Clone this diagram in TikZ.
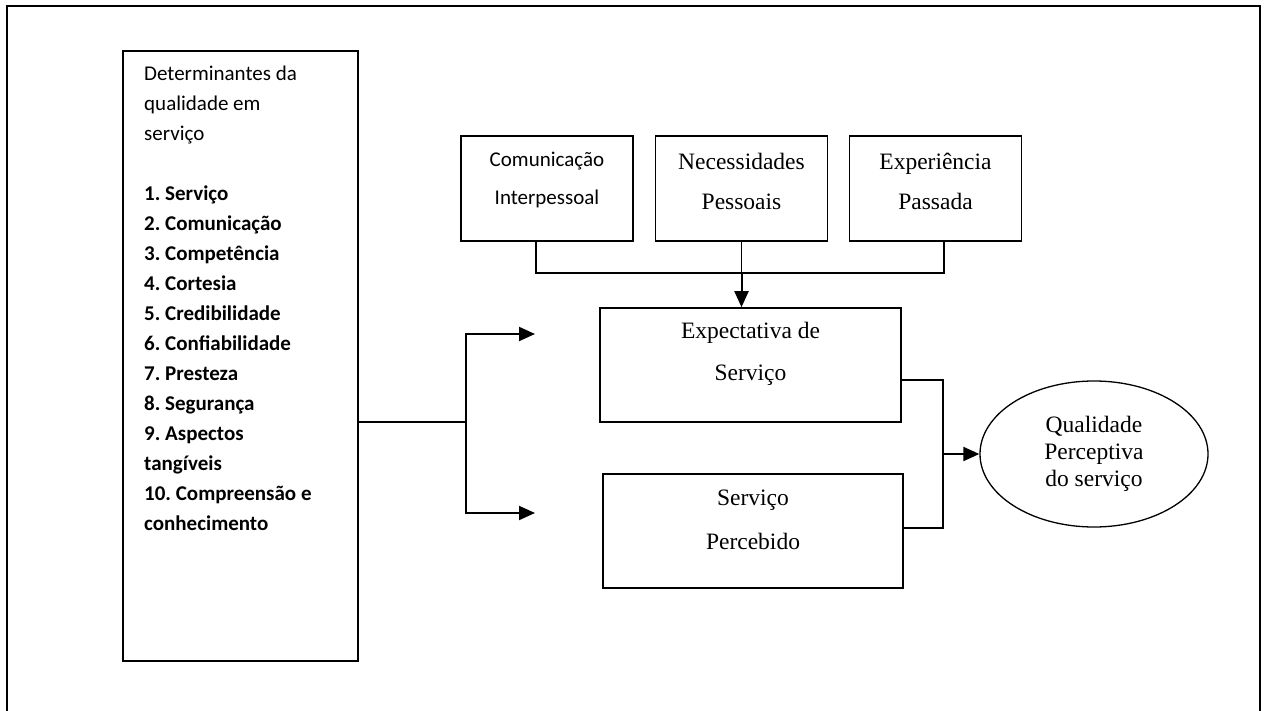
\documentclass[tikz,border=0pt]{standalone}
\usepackage{fontspec}
\setmainfont{Liberation Serif}
\newfontfamily\calibri{Carlito}
\usetikzlibrary{shapes.geometric,arrows.meta}
\frenchspacing

\begin{document}
\begin{tikzpicture}[x=1pt,y=-1pt,
    box/.style={draw,line width=1.6pt,inner sep=0pt},
    sans/.style={font=\calibri\fontsize{21}{38}\selectfont,align=center,inner sep=0pt},
    serif/.style={font=\fontsize{23.5}{41}\selectfont,align=center,inner sep=0pt},
    con/.style={line width=1.3pt},
    arr/.style={line width=2pt,-{Triangle[length=16pt,width=14pt]}},
    fork/.style={line width=2pt,{Triangle[length=16pt,width=14pt]}-{Triangle[length=16pt,width=14pt]}}]
    \useasboundingbox (0,0) rectangle (1264,711);
    \draw[line width=2pt] (7,716) |- (1260,6) -- (1260,716);% outer frame, its bottom is cut off

    % determinants on the left
    \node[box,minimum width=235pt,minimum height=610pt] (det) at (240.5,356) {};
    \node[anchor=north west,align=left,inner sep=0pt,
      font=\calibri\fontsize{21}{30}\selectfont] (detlist) at (144,66)
      {Determinantes da\\qualidade em\\serviço\\[30pt]
       \textbf{1. Serviço}\\\textbf{2. Comunicação}\\\textbf{3. Competência}\\
       \textbf{4. Cortesia}\\\textbf{5. Credibilidade}\\\textbf{6. Confiabilidade}\\
       \textbf{7. Presteza}\\\textbf{8. Segurança}\\\textbf{9. Aspectos}\\
       \textbf{tangíveis}\\\textbf{10. Compreensão e}\\\textbf{conhecimento}};

    % the three sources of the expectation
    \node[box,minimum width=172pt,minimum height=105pt] (interp) at (547,188.5) {};
    \node[box,minimum width=172pt,minimum height=105pt] (needs) at (741.5,188.5) {};
    \node[box,minimum width=172pt,minimum height=105pt] (past) at (935.5,188.5) {};
    \node[sans] (interptxt) at ([yshift=8.5pt]interp.center) {Comunicação\\Interpessoal};
    \node[serif,font=\fontsize{23.5}{40}\selectfont] (needstxt) at ([yshift=7.5pt]needs.center) {Necessidades\\Pessoais};
    \node[serif,font=\fontsize{23.5}{40}\selectfont] (pasttxt) at ([yshift=7.5pt]past.center) {Experiência\\Passada};

    % expected and perceived service
    \node[box,minimum width=301pt,minimum height=114pt] (expect) at (750.5,365) {};
    \node[box,minimum width=300pt,minimum height=114pt] (perceived) at (753,531) {};
    \node[serif,font=\fontsize{23.5}{42}\selectfont] (expecttxt) at ([yshift=11pt]expect.center) {Expectativa de\\Serviço};
    \node[serif,font=\fontsize{23.5}{44}\selectfont] (perceivedtxt) at ([yshift=11pt]perceived.center) {Serviço\\Percebido};

    \node[draw,ellipse,line width=1.3pt,minimum width=228pt,minimum height=146pt,
      serif,font=\fontsize{23.5}{27}\selectfont] (qual) at (1094,454) {Qualidade\\Perceptiva\\do serviço};

    % connectors
    \coordinate (bus) at (741,273);
    \coordinate (fork) at (466,422);
    \coordinate (tipup) at (535,334);
    \coordinate (tipdown) at (535,513);
    \coordinate (join) at (943,454);
    \coordinate (eout) at ([yshift=-15pt]expect.east);
    \coordinate (pout) at ([yshift=3pt]perceived.east);

    \draw[con] ([xshift=-11pt]interp.south) |- ([xshift=8.5pt]past.south |- bus) -- ([xshift=8.5pt]past.south);
    \draw[con] (needs.south) -- (needs.south |- bus);
    \draw[arr] (needs.south |- bus) -- (needs.south |- expect.north);

    \draw[con] (det.east |- fork) -- (fork);
    \draw[fork] (tipup) -| (fork |- tipdown) -- (tipdown);

    \draw[con] (eout) -| (join) |- (pout);
    \draw[arr] (join) -- (qual.west);
\end{tikzpicture}
\end{document}
